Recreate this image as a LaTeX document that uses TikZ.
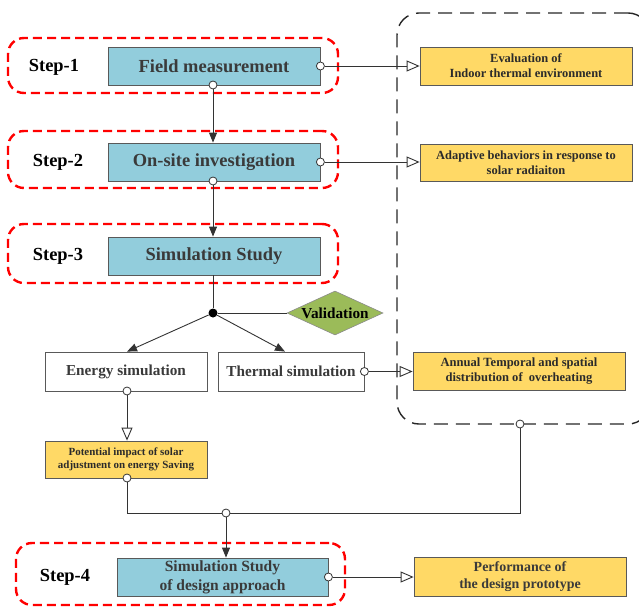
\documentclass[tikz,border=0pt]{standalone}
\usepackage{fontspec}
\setmainfont{Liberation Serif}
\usetikzlibrary{arrows.meta,shapes.geometric,calc}
\definecolor{bluefill}{HTML}{92CDDC}
\definecolor{yellowfill}{HTML}{FFD966}
\definecolor{greenfill}{HTML}{9BBB59}
\definecolor{framegray}{HTML}{595959}
\definecolor{textgray}{HTML}{3A3A3A}
\definecolor{textdark}{HTML}{2B2B2B}
\definecolor{linegray}{HTML}{333333}
\begin{document}
\begin{tikzpicture}[x=1bp,y=-1bp,
  mainbox/.style={draw=framegray,line width=0.8bp,fill=bluefill,inner sep=0pt,align=center,
    minimum width=212bp,minimum height=38bp,text=textgray,
    font=\bfseries\fontsize{18.5}{22}\selectfont},
  simbox/.style={draw=framegray,line width=0.8bp,fill=white,inner sep=0pt,align=center,
    minimum height=39bp,text=textgray,font=\bfseries\fontsize{15.3}{18}\selectfont},
  outbox/.style={draw=framegray,line width=0.8bp,fill=yellowfill,inner sep=0pt,align=center,
    minimum width=212bp,text=textdark},
  steplabel/.style={inner sep=0pt,text=black,font=\bfseries\fontsize{18.5}{22}\selectfont},
  stepframe/.style={draw=red,line width=2.4bp,dash pattern=on 9bp off 5bp,rounded corners=16bp,inner sep=0pt},
  outframe/.style={draw=black!85,line width=1.4bp,dash pattern=on 14bp off 8bp,rounded corners=22bp,inner sep=0pt},
  port/.style={circle,draw=linegray,fill=white,line width=0.8bp,inner sep=0pt,minimum size=8bp},
  junction/.style={circle,fill=black,inner sep=0pt,minimum size=9bp},
  conn/.style={draw=linegray,line width=0.9bp},
  flowfill/.style={conn,-{Triangle[length=10bp,width=8bp]}},
  flowopen/.style={conn,-{Triangle[open,length=13bp,width=11bp,fill=white]}}
]
\useasboundingbox (0,0) rectangle (639,607);
\clip (0,0) rectangle (639,607);

% frames
\node[stepframe,minimum width=330bp,minimum height=55bp] (f1) at (173,65.5) {};
\node[stepframe,minimum width=330bp,minimum height=57bp] (f2) at (173,159.5) {};
\node[stepframe,minimum width=330bp,minimum height=59bp] (f3) at (173,253.5) {};
\node[stepframe,minimum width=329bp,minimum height=62bp] (f4) at (180.5,574) {};
\node[outframe,minimum width=253bp,minimum height=411bp] (out) at (523.5,218.5) {};

% step labels
\node[steplabel] (s1) at (54,67) {Step-1};
\node[steplabel] (s2) at (58,162) {Step-2};
\node[steplabel] (s3) at (58,256) {Step-3};
\node[steplabel] (s4) at (65,577) {Step-4};

% main boxes
\node[mainbox] (fm) at (214,66) {Field measurement};
\node[mainbox] (osi) at (214,162) {On-site investigation};
\node[mainbox] (ss) at (214,256) {Simulation Study};
\node[mainbox,minimum width=211bp,font=\bfseries\fontsize{15.6}{19}\selectfont] (ss4) at (222.5,577) {Simulation Study\\of design approach};

% simulation boxes
\node[simbox,minimum width=162bp] (energy) at (126,371.5) {Energy simulation};
\node[simbox,minimum width=146bp] (thermal) at (291,371.5) {Thermal simulation};

% output boxes
\node[outbox,minimum height=38bp,font=\bfseries\fontsize{12.5}{15}\selectfont] (eval) at (526,66) {Evaluation of\\Indoor thermal environment};
\node[outbox,minimum height=37bp,font=\bfseries\fontsize{12.5}{15}\selectfont] (adapt) at (526,162.5) {Adaptive behaviors in response to\\solar radiaiton};
\node[outbox,minimum height=38bp,font=\bfseries\fontsize{12.6}{15}\selectfont] (annual) at (519,371) {Annual Temporal and spatial\\distribution of\ \ overheating};
\node[outbox,minimum width=162bp,minimum height=37bp,font=\bfseries\fontsize{11}{13}\selectfont] (pot) at (126,459.5) {Potential impact of solar\\adjustment on energy Saving};
\node[outbox,minimum height=39bp,font=\bfseries\fontsize{14}{17}\selectfont,text=textgray] (perf) at (520,576.5) {Performance of\\the design prototype};

% validation
\node[diamond,draw=framegray!70,line width=0.6bp,fill=greenfill,inner sep=0pt,
  minimum width=96bp,minimum height=44bp,font=\bfseries\fontsize{15.3}{18}\selectfont] (val) at (335,313) {\makebox[0pt]{Validation}};
\node[junction] (dot) at (213,313) {};

% ports
\node[port] (p1) at (fm.east) {};
\node[port] (p2) at (213,85) {};
\node[port] (p3) at (osi.east) {};
\node[port] (p4) at (213,181) {};
\node[port] (p5) at (thermal.east) {};
\node[port] (p6) at (127,391) {};
\node[port] (p7) at (127,478) {};
\node[port] (pj) at (226,513) {};
\node[port] (p8) at (520,424) {};
\node[port] (p9) at (ss4.east) {};

% connectors
\draw[flowopen] (p1.east) -- (eval.west);
\draw[flowfill] (p2.south) -- (osi.north -| p2);
\draw[flowopen] (p3.east) -- (adapt.west |- p3);
\draw[flowfill] (p4.south) -- (ss.north -| p4);
\draw[conn] (ss.south -| dot) -- (dot.north);
\draw[conn] (dot.east) -- (val.west);
\draw[flowfill] (dot) -- ($(energy.north)+(1,0)$);
\draw[flowfill] (dot) -- ($(thermal.north)+(-6,0)$);
\draw[flowopen] (p5.east) -- (annual.west |- p5);
\draw[flowopen] (p6.south) -- (pot.north -| p6);
\draw[conn] (p7.south) |- (pj.west);
\draw[conn] (pj.east) -| (p8.south);
\draw[flowfill] (pj.south) -- (ss4.north -| pj);
\draw[flowopen] (p9.east) -- (perf.west |- p9);
\end{tikzpicture}
\end{document}
